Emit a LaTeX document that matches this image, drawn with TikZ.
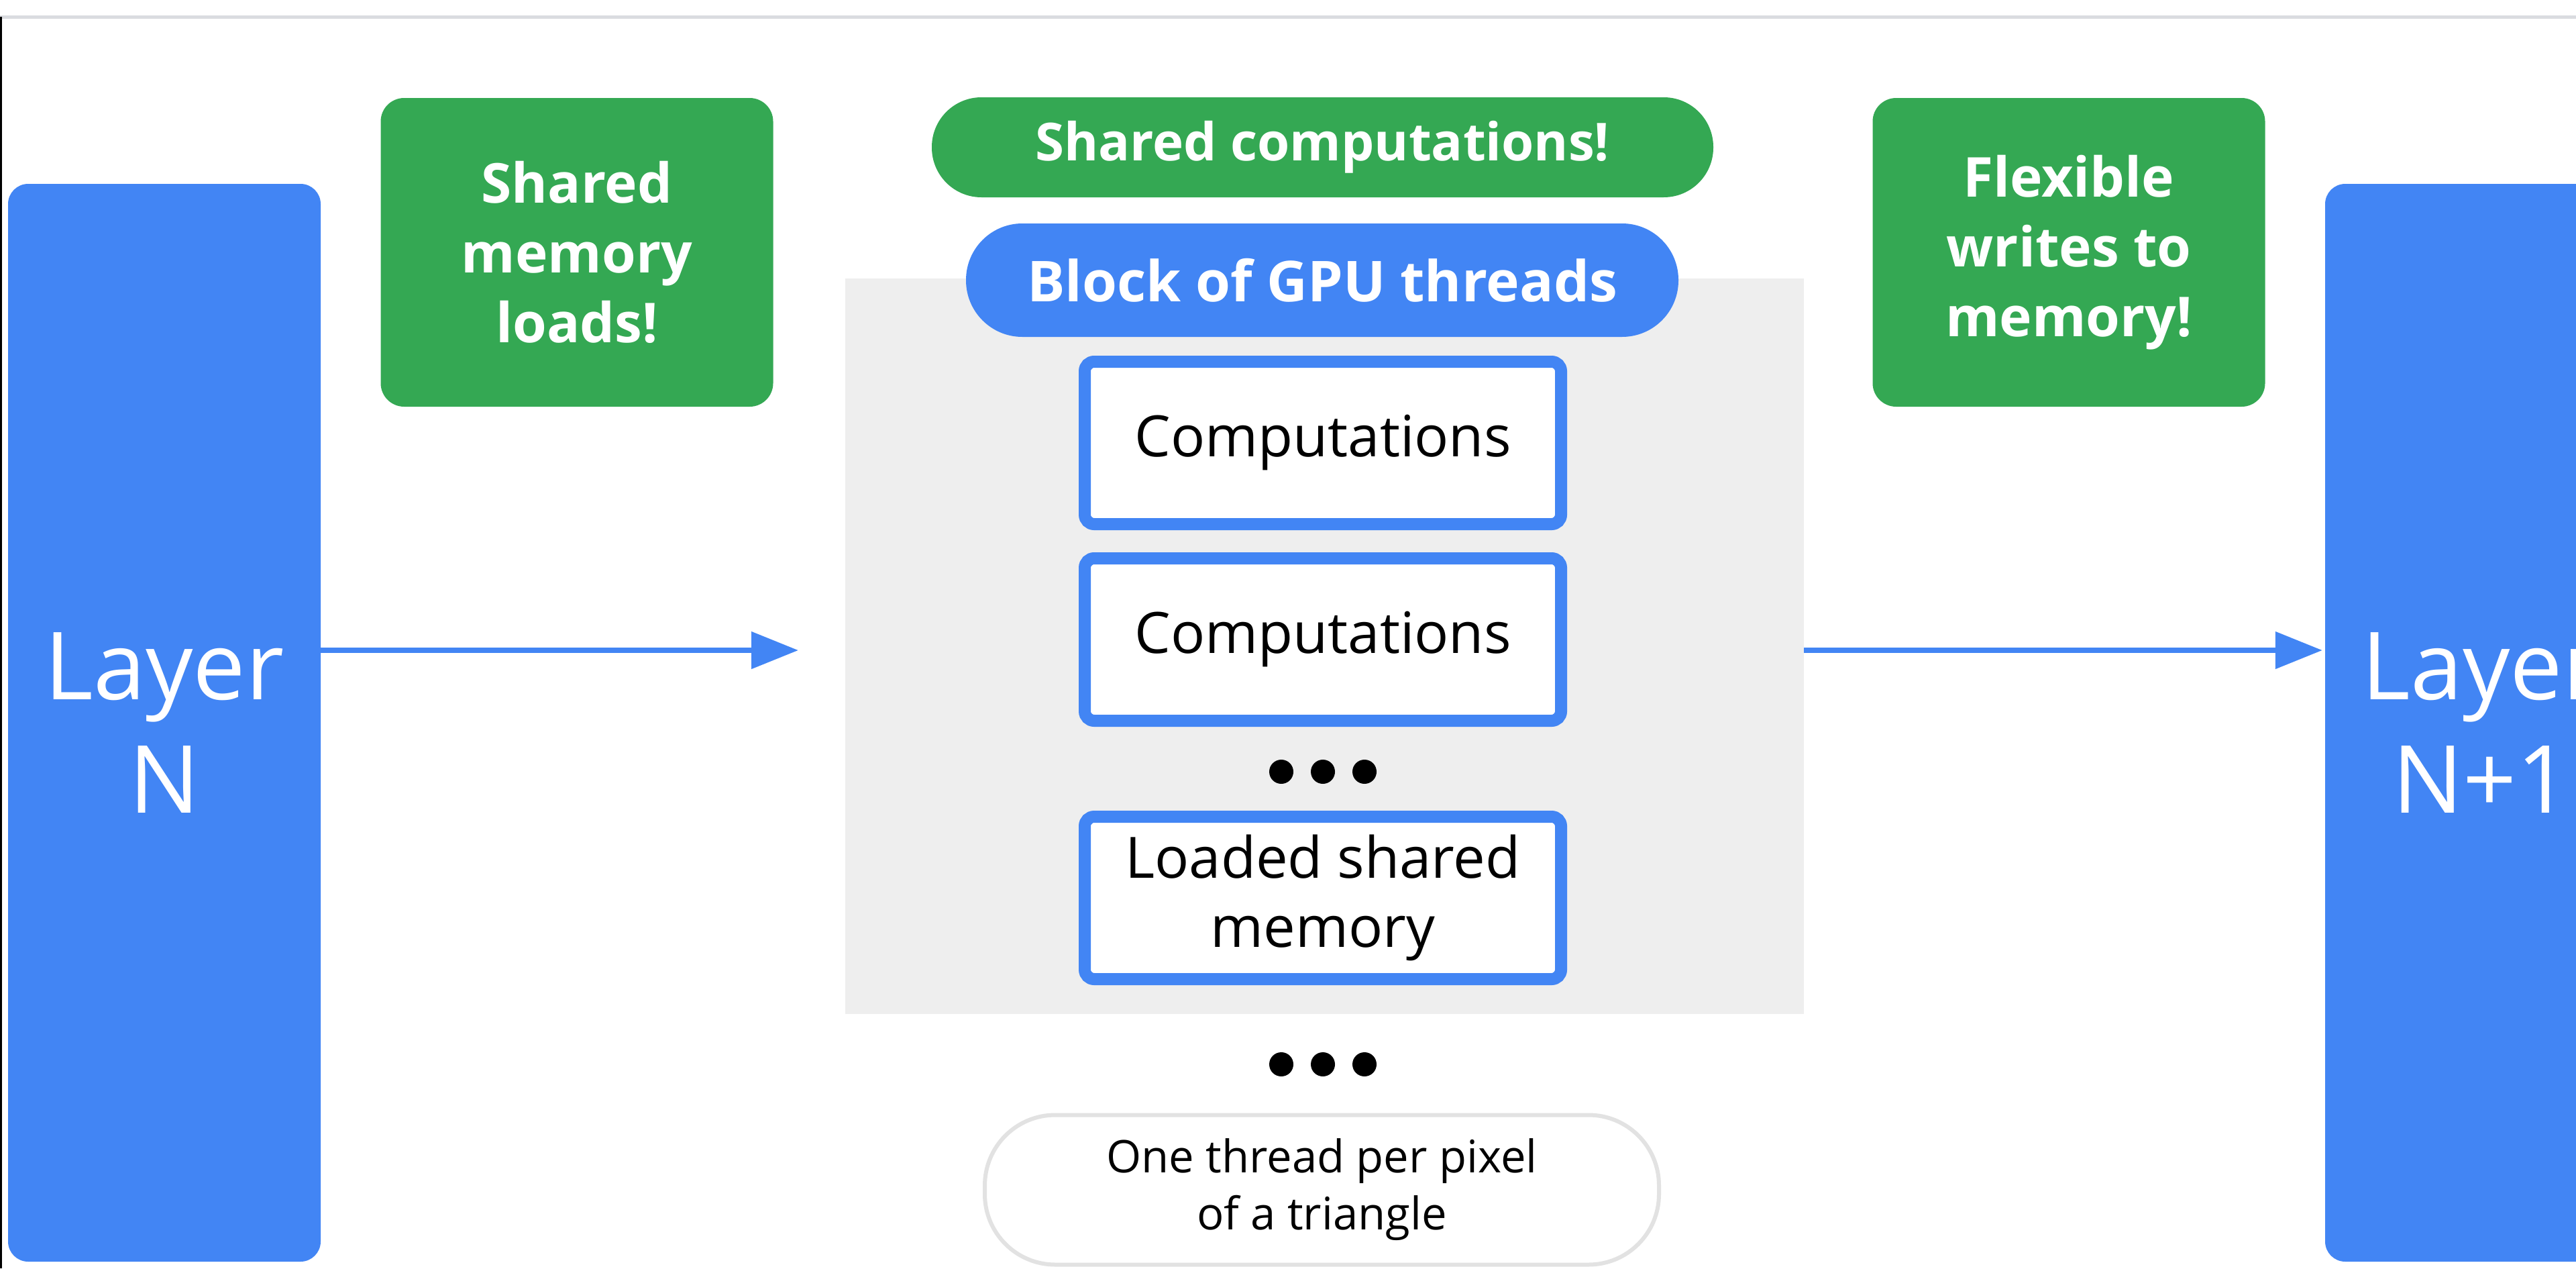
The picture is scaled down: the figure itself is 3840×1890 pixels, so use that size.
\documentclass[tikz,border=0pt]{standalone}
\usepackage{fontspec}
\setmainfont{Open Sans}
\usetikzlibrary{arrows.meta}
\definecolor{gblue}{HTML}{4285F4}
\definecolor{ggreen}{HTML}{34A853}
\definecolor{panelgray}{HTML}{EEEEEE}
\definecolor{linegray}{HTML}{DADCE0}
\definecolor{pillgray}{HTML}{E2E2E2}
\begin{document}
\begin{tikzpicture}[x=1pt,y=-1pt,
  layerbox/.style={fill=gblue, draw=none, rounded corners=30pt, minimum width=466pt, minimum height=1606pt, inner sep=0pt, text=white, align=center, font=\fontsize{140}{169}\selectfont},
  notebox/.style={fill=ggreen, draw=none, rounded corners=35pt, minimum width=585pt, minimum height=460pt, inner sep=0pt, text=white, align=center, font=\bfseries\fontsize{82}{104}\selectfont},
  pillgreen/.style={fill=ggreen, draw=none, rounded corners=74pt, minimum width=1165pt, minimum height=149pt, inner sep=0pt, text=white, font=\bfseries\fontsize{78}{90}\selectfont},
  pillblue/.style={fill=gblue, draw=none, rounded corners=84pt, minimum width=1062pt, minimum height=169pt, inner sep=0pt, text=white, font=\bfseries\fontsize{84}{96}\selectfont},
  panelbox/.style={fill=panelgray, draw=none, minimum width=1429pt, minimum height=1096pt, inner sep=0pt},
  threadbox/.style={fill=white, draw=gblue, line width=18pt, rounded corners=14pt, minimum width=710pt, minimum height=242pt, inner sep=0pt, align=center, text=black, font=\fontsize{85}{103}\selectfont},
  dotnode/.style={circle, fill=black, draw=none, minimum size=36pt, inner sep=0pt},
  whitepill/.style={fill=white, draw=pillgray, line width=6pt, rounded corners=105pt, minimum width=1005pt, minimum height=223pt, inner sep=0pt, align=center, text=black, font=\fontsize{67}{85}\selectfont},
  flow/.style={draw=gblue, line width=8pt, -{Triangle[length=70pt,width=54pt]}}
]
\useasboundingbox (0,0) rectangle (3840,1890);
\clip (0,0) rectangle (3840,1890);
\fill[white] (0,0) rectangle (3840,1890);
\draw[linegray, line width=5pt] (0,25) -- (3840,25);
\draw[black, line width=3pt] (1.5,25) -- (1.5,1890);

% layers
\node[layerbox] (layerN) at (245,1077) {Layer\\N};
\node[layerbox] (layerN1) at (3699,1077) {Layer\\N+1};

% notes
\node[notebox] (loads) at (860,376) {Shared\\memory\\loads!};
\node[notebox] (writes) at (3084,376) {Flexible\\writes to\\memory!};

% central panel
\node[panelbox] (panel) at (1974.5,963) {};
\node[pillgreen] (sharedcomp) at (1971.5,219.5) {Shared computations!};
\node[pillblue] (block) at (1971,417.5) {Block of GPU threads};

\node[threadbox] (comp1) at (1972,660) {Computations};
\node[threadbox] (comp2) at (1972,953) {Computations};
\node[dotnode] (da1) at (1910,1150) {};
\node[dotnode] (da2) at (1972,1150) {};
\node[dotnode] (da3) at (2034,1150) {};
\node[threadbox] (loaded) at (1972,1338) {Loaded shared\\memory};

\node[dotnode] (db1) at (1910,1586) {};
\node[dotnode] (db2) at (1972,1586) {};
\node[dotnode] (db3) at (2034,1586) {};

\node[whitepill] (perpixel) at (1970.5,1773) {One thread per pixel\\of a triangle};

% arrows
\coordinate (arrowrow) at (0,969);
\coordinate (tipone) at (1190,969);
\draw[flow] (layerN.east |- arrowrow) -- (tipone);
\draw[flow] (panel.east |- arrowrow) -- ([xshift=-4pt]layerN1.west |- arrowrow);
\end{tikzpicture}
\end{document}
